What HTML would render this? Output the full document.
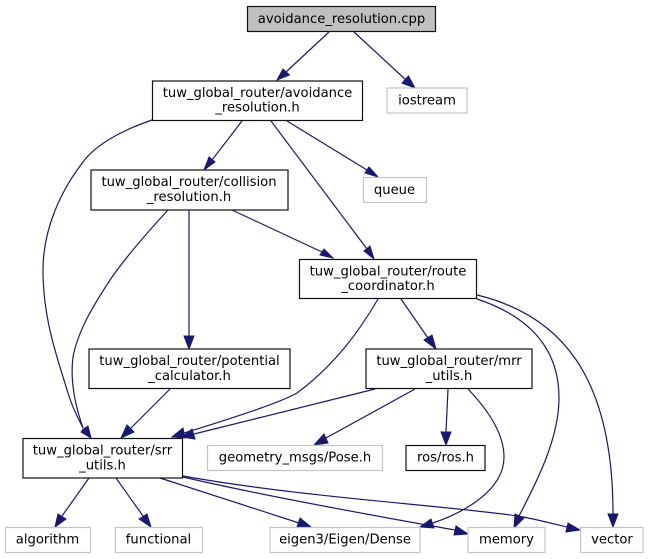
<!DOCTYPE html>
<html><head><meta charset="utf-8"><style>
html,body{margin:0;padding:0;background:#fff}
svg{display:block}
text{font-family:"DejaVu Sans",sans-serif;font-size:13.15px;fill:#000;text-anchor:middle}
.b{fill:#fff;stroke:#111;stroke-width:1.2}
.g{fill:#fff;stroke:#c4c4c4;stroke-width:1.2}
.e{fill:none;stroke:#191970;stroke-width:1.2}
.a{fill:#191970;stroke:#191970;stroke-width:1}
</style></head><body>
<svg width="649" height="559" viewBox="0 0 649 559" xmlns="http://www.w3.org/2000/svg">
<rect width="649" height="559" fill="#fff"/>
<path class="e" d="M329,32L286,72"/><polygon class="a" points="283,69 277,80 289.500,75"/>
<path class="e" d="M354,32L406,80"/><polygon class="a" points="402,83 415,88 408.500,76"/>
<path class="e" d="M242,121L212,160"/><polygon class="a" points="209,157 204,170 215,162"/>
<path class="e" d="M271,121L367,249"/><polygon class="a" points="364,251 374,259 370,246"/>
<path class="e" d="M287,121L367,170"/><polygon class="a" points="365,173 378,177 369,167"/>
<path class="e" d="M152,120C120,131 100,143 87,157C60,190 43,230 43,270C43,320 58,360 68,393C71,403 75,413 83,428"/><polygon class="a" points="81,432 91,438 87,427"/>
<path class="e" d="M168,210C145,235 125,258 110,280C95,303 78,330 73,357C70,380 75,405 83,428"/><polygon class="a" points="82,430 91,438 88,426"/>
<path class="e" d="M189,210V336"/><polygon class="a" points="184,336 189,349 194,336"/>
<path class="e" d="M232,210L322,252"/><polygon class="a" points="320,255 333,258 324,249"/>
<path class="e" d="M170,389L130,429"/><polygon class="a" points="127,425 121,438 134,432"/>
<path class="e" d="M378,299C360,330 335,365 297,393C280,403 220,422 184,433"/><polygon class="a" points="183,428 172,437 185,438"/>
<path class="e" d="M375,389L194,434"/><polygon class="a" points="192,429 182,437 195,439"/>
<path class="e" d="M401,299L428,338"/><polygon class="a" points="424,340 436,349 432,335"/>
<path class="e" d="M477,299C525,315 559,345 559,398C559,440 535,485 519,516"/><polygon class="a" points="515,514 514,528 524,518"/>
<path class="e" d="M477,295C560,315 613,375 613,514"/><polygon class="a" points="608,514 613,527 618,514"/>
<path class="e" d="M415,389L326,438"/><polygon class="a" points="324,434 314,445 328,443"/>
<path class="e" d="M448,389L446,432"/><polygon class="a" points="441,432 446,445 451,432"/>
<path class="e" d="M468,389C490,412 504,435 504,457C504,490 465,512 433,523"/><polygon class="a" points="431,519 420,527 434,528"/>
<path class="e" d="M89,478L62,516"/><polygon class="a" points="58,514 55,527 66,519"/>
<path class="e" d="M116,478L143,516"/><polygon class="a" points="139,519 151,527 147,514"/>
<path class="e" d="M160,478L299,523"/><polygon class="a" points="297,527 311,527 300,518"/>
<path class="e" d="M183,477C260,495 370,515 455,530"/><polygon class="a" points="454,535 468,534 456,526"/>
<path class="e" d="M183,476C300,497 440,505 518,516C535,519 550,523 567,527"/><polygon class="a" points="566,532 580,530 568,523"/>
<rect class="b" x="247.500" y="6.500" width="188" height="25" style="fill:#bfbfbf"/><text x="341.500" y="23">avoidance_resolution.cpp</text>
<rect class="b" x="152.500" y="81" width="210" height="39.500"/><text x="257.500" y="97">tuw_global_router/avoidance</text><text x="257.500" y="111.500">_resolution.h</text>
<rect class="g" x="387" y="88" width="80" height="25"/><text x="427" y="104.500">iostream</text>
<rect class="b" x="91" y="170" width="197" height="40"/><text x="189" y="186">tuw_global_router/collision</text><text x="189" y="201">_resolution.h</text>
<rect class="g" x="363.500" y="177.500" width="63" height="25"/><text x="394.500" y="194">queue</text>
<rect class="b" x="299.500" y="259.500" width="177" height="39"/><text x="388" y="275.500">tuw_global_router/route</text><text x="388" y="290">_coordinator.h</text>
<rect class="b" x="89" y="349" width="201" height="39.500"/><text x="189.500" y="365">tuw_global_router/potential</text><text x="189.500" y="380">_calculator.h</text>
<rect class="b" x="366" y="349" width="166" height="39.500"/><text x="449" y="365">tuw_global_router/mrr</text><text x="449" y="380">_utils.h</text>
<rect class="b" x="23" y="438.500" width="159.500" height="39.500"/><text x="102.500" y="454.500">tuw_global_router/srr</text><text x="102.500" y="469.500">_utils.h</text>
<rect class="g" x="207.500" y="445.500" width="175" height="25"/><text x="295" y="461.500">geometry_msgs/Pose.h</text>
<rect class="b" x="406" y="445.500" width="79" height="25"/><text x="445.500" y="461.500">ros/ros.h</text>
<rect class="g" x="5.500" y="527.500" width="85" height="25"/><text x="47.500" y="543.500">algorithm</text>
<rect class="g" x="115.500" y="527.500" width="87" height="25"/><text x="158.500" y="543.500">functional</text>
<rect class="g" x="270" y="527.500" width="150" height="25"/><text x="345" y="543.500">eigen3/Eigen/Dense</text>
<rect class="g" x="468" y="527.500" width="77" height="25"/><text x="506.500" y="543.500">memory</text>
<rect class="g" x="580.500" y="527.500" width="62.500" height="25"/><text x="612" y="543.500">vector</text>
</svg>
</body></html>
